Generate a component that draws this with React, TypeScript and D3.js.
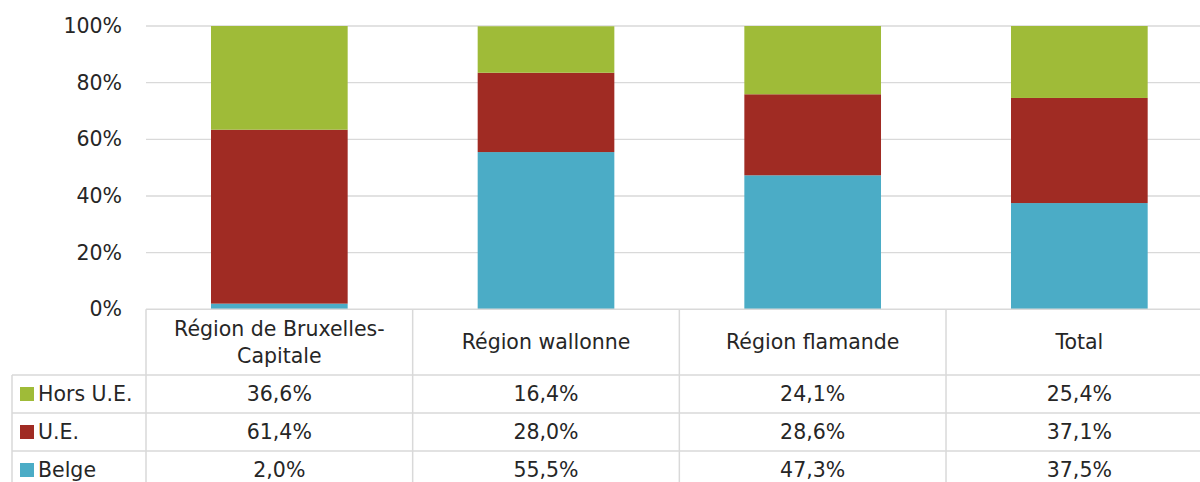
import React from "react";
import * as d3 from "d3";

const categories = ["Région de Bruxelles-Capitale", "Région wallonne", "Région flamande", "Total"];
const headerLines = [["Région de Bruxelles-", "Capitale"], ["Région wallonne"], ["Région flamande"], ["Total"]];
const seriesNames = ["Hors U.E.", "U.E.", "Belge"];
const horsUE = [36.6, 16.4, 24.1, 25.4];
const ue = [61.4, 28.0, 28.6, 37.1];
const belge = [2.0, 55.5, 47.3, 37.5];
const yTicks = [0, 20, 40, 60, 80, 100];

const colors: Record<string, string> = {
  "Hors U.E.": "#9fbb38",
  "U.E.": "#a02b23",
  Belge: "#4bacc6",
};

const W = 1200;
const H = 482;
const left = 146;
const step = 266.67;
const right = left + step * 4;
const top = 26;
const bottom = 309.3;
const rowLines = [375, 413, 451, 489];
const font = "'DejaVu Sans', Verdana, sans-serif";
const fs = 20.5;
const textColor = "#262626";
const gridColor = "#d9d9d9";

const fmt = (v: number) => v.toFixed(1).replace(".", ",") + "%";

export default function App() {
  const x = d3
    .scaleBand<string>()
    .domain(categories)
    .range([left, right])
    .paddingInner(0.4875)
    .paddingOuter(0.24375);
  const y = d3.scaleLinear().domain([0, 100]).range([bottom, top]);

  // stacked bottom → top: Belge, U.E., Hors U.E.
  const rows = categories.map((c, i) => ({ cat: c, Belge: belge[i], "U.E.": ue[i], "Hors U.E.": horsUE[i] }));
  const stack = d3.stack<any>().keys(["Belge", "U.E.", "Hors U.E."])(rows);

  const tableRows = [horsUE, ue, belge];

  return (
    <svg width={W} height={H} style={{ position: "absolute", left: 0, top: 0, display: "block" }} fontFamily={font}>
      {yTicks.map((t) => (
        <g key={t}>
          {t > 0 && <line x1={left} x2={right} y1={y(t)} y2={y(t)} stroke={gridColor} strokeWidth={1.3} />}
          <text x={122} y={y(t)} dy="0.35em" textAnchor="end" fontSize={fs} fill={textColor}>
            {t}%
          </text>
        </g>
      ))}
      {stack.map((s) => (
        <g key={s.key} fill={colors[s.key]}>
          {s.map((d, i) => (
            <rect
              key={i}
              x={x(categories[i])!}
              width={x.bandwidth()}
              y={y(d[1])}
              height={Math.max(0, y(d[0]) - y(d[1]))}
            />
          ))}
        </g>
      ))}
      {/* data table */}
      <g stroke={gridColor} strokeWidth={1.5}>
        <line x1={left} x2={right} y1={bottom} y2={bottom} />
        {rowLines.map((ry) => (
          <line key={ry} x1={12} x2={right} y1={ry} y2={ry} />
        ))}
        <line x1={12} x2={12} y1={rowLines[0]} y2={H} />
        {categories.map((c, i) => (
          <line key={c} x1={left + step * i} x2={left + step * i} y1={bottom} y2={H} />
        ))}
      </g>
      {headerLines.map((lines, i) => {
        const cx = x(categories[i])! + x.bandwidth() / 2;
        const cy = (bottom + rowLines[0]) / 2;
        const lh = 27;
        return (
          <text key={i} textAnchor="middle" fontSize={fs} fill={textColor}>
            {lines.map((l, j) => (
              <tspan key={j} x={cx} y={cy + (j - (lines.length - 1) / 2) * lh} dy="0.35em">
                {l}
              </tspan>
            ))}
          </text>
        );
      })}
      {seriesNames.map((name, r) => {
        const cy = (rowLines[r] + rowLines[r + 1]) / 2;
        return (
          <g key={name}>
            <rect x={20} y={cy - 7} width={14} height={14} fill={colors[name]} />
            <text x={38} y={cy} dy="0.35em" fontSize={fs} fill={textColor}>
              {name}
            </text>
            {tableRows[r].map((v, i) => (
              <text
                key={i}
                x={x(categories[i])! + x.bandwidth() / 2}
                y={cy}
                dy="0.35em"
                textAnchor="middle"
                fontSize={fs}
                fill={textColor}
              >
                {fmt(v)}
              </text>
            ))}
          </g>
        );
      })}
    </svg>
  );
}
